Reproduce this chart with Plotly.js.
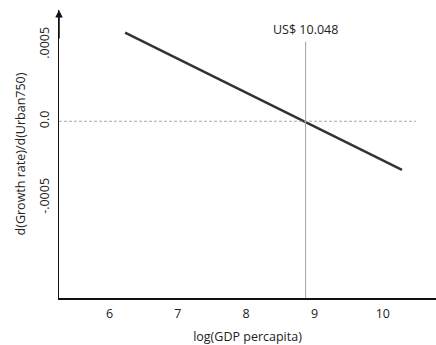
<!DOCTYPE html>
<html>
<head>
<meta charset="utf-8">
<script src="https://cdn.plot.ly/plotly-3.0.1.min.js"></script>
<style>html,body{margin:0;padding:0;background:#fff;}#chart{width:436px;height:345px;}</style>
</head>
<body>
<div id="chart"></div>
<script>
// Data
const lineX = [6.226, 10.281];
const lineY = [0.000579, -0.000318];
const xTicks = [6, 7, 8, 9, 10];
const xTickLabels = ['6', '7', '8', '9', '10'];
const yTicks = [0.0005, 0.0, -0.0005];
const yTickLabels = ['.0005', '0.0', '-.0005'];
const thresholdX = 8.87;
const thresholdTop = 0.00052;
const thresholdLabel = 'US$ 10.048';
const zeroLineEnd = 10.486;

const xRange = [5.259, 10.779];
const yRange = [-0.001155, 0.000727];
const FONT = 'Open Sans, Noto Sans, sans-serif';

const traces = [{
  x: lineX, y: lineY, type: 'scatter', mode: 'lines',
  line: {color: '#333333', width: 2.5},
  hoverinfo: 'skip', showlegend: false
}];

const layout = {
  width: 436, height: 345,
  margin: {l: 59, r: 0, t: 10, b: 47},
  paper_bgcolor: '#fff', plot_bgcolor: '#fff',
  font: {family: FONT, size: 12, color: '#222'},
  showlegend: false,
  xaxis: {
    range: xRange, tickvals: xTicks, ticktext: xTickLabels,
    showgrid: false, zeroline: false, showline: true, linecolor: '#111', linewidth: 1.5,
    ticks: '', ticklabelstandoff: 3, tickfont: {size: 12.5, family: FONT, color: '#222'},
    title: {text: 'log(GDP percapita)', font: {size: 12.5, family: FONT, color: '#222'}, standoff: 14}
  },
  yaxis: {
    range: yRange, tickvals: yTicks, ticktext: yTickLabels, tickangle: -90,
    showgrid: false, zeroline: false, showline: true, linecolor: '#111', linewidth: 1.5,
    ticks: '', ticklabelstandoff: 4, tickfont: {size: 12.5, family: FONT, color: '#222'},
    title: {text: 'd(Growth rate)/d(Urban750)', font: {size: 12.5, family: FONT, color: '#222'}, standoff: 7}
  },
  shapes: [
    {type: 'line', xref: 'x', yref: 'y', x0: xRange[0], x1: zeroLineEnd, y0: 0, y1: 0,
     line: {color: '#a8a8a8', width: 1, dash: '3px,2px'}},
    {type: 'line', xref: 'x', yref: 'y', x0: thresholdX, x1: thresholdX, y0: yRange[0], y1: thresholdTop,
     line: {color: '#a0a0a0', width: 1}}
  ],
  annotations: [
    {x: thresholdX, y: thresholdTop, xref: 'x', yref: 'y', text: thresholdLabel, showarrow: false,
     yanchor: 'bottom', yshift: 2, font: {size: 12.5, family: FONT, color: '#222'}},
    {x: xRange[0], y: yRange[1], xref: 'x', yref: 'y', ax: 0, ay: 30, axref: 'pixel', ayref: 'pixel',
     showarrow: true, arrowhead: 2, arrowsize: 1, arrowwidth: 1.5, arrowcolor: '#111', text: ''}
  ]
};

Plotly.newPlot('chart', traces, layout, {displayModeBar: false, staticPlot: true});
</script>
</body>
</html>
